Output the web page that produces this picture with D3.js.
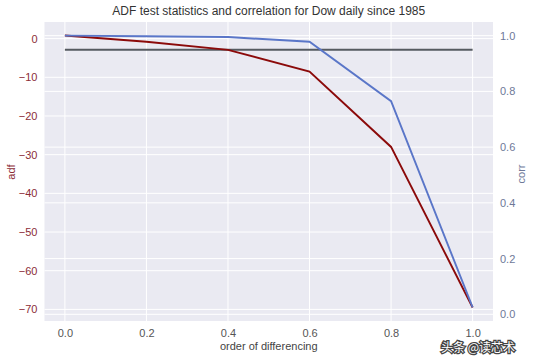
<!DOCTYPE html>
<html><head><meta charset="utf-8">
<script src="https://cdn.jsdelivr.net/npm/d3@7"></script>
<style>body{margin:0;background:#fff;}text{font-family:"Liberation Sans",Arial,sans-serif;}</style>
</head><body><svg id="c" width="534" height="360"></svg>
<script>
const orders = [0.0, 0.2, 0.4, 0.6, 0.8, 1.0];
const adf = [0.8, -0.8, -2.9, -8.5, -28.0, -69.5];
const corr = [1.0, 0.998, 0.995, 0.978, 0.765, 0.025];
const critical = -2.86;
const xTicks = [0.0, 0.2, 0.4, 0.6, 0.8, 1.0];
const adfTicks = [0, -10, -20, -30, -40, -50, -60, -70];
const corrTicks = [0.0, 0.2, 0.4, 0.6, 0.8, 1.0];

const svg = d3.select("#c");
const L = 44.5, R = 493, T = 22, B = 321;
const x = d3.scaleLinear().domain([-0.05, 1.05]).range([L, R]);
const yL = d3.scaleLinear().domain([-73, 4.3]).range([B, T]);
const yR = d3.scaleLinear().domain([-0.024, 1.049]).range([B, T]);

svg.append("rect").attr("x", L).attr("y", T).attr("width", R - L).attr("height", B - T).attr("fill", "#EAEAF2");
const g = svg.append("g");
xTicks.forEach(t => g.append("line").attr("x1", x(t)).attr("x2", x(t)).attr("y1", T).attr("y2", B).attr("stroke", "#fff").attr("stroke-width", 1));
adfTicks.forEach(t => g.append("line").attr("x1", L).attr("x2", R).attr("y1", yL(t)).attr("y2", yL(t)).attr("stroke", "#fff").attr("stroke-width", 1));
corrTicks.forEach(t => g.append("line").attr("x1", L).attr("x2", R).attr("y1", yR(t)).attr("y2", yR(t)).attr("stroke", "#fff").attr("stroke-width", 1));

// critical line
svg.append("line").attr("x1", x(orders[0])).attr("x2", x(orders[orders.length-1]))
  .attr("y1", yL(critical)).attr("y2", yL(critical)).attr("stroke", "#555a60").attr("stroke-width", 2);

svg.append("path").datum(orders.map((o, i) => [o, adf[i]]))
  .attr("d", d3.line().x(d => x(d[0])).y(d => yL(d[1])))
  .attr("fill", "none").attr("stroke", "#8b0a0a").attr("stroke-width", 1.9);
svg.append("path").datum(orders.map((o, i) => [o, corr[i]]))
  .attr("d", d3.line().x(d => x(d[0])).y(d => yR(d[1])))
  .attr("fill", "none").attr("stroke", "#5a76c8").attr("stroke-width", 1.9);

// axes
const ax = svg.append("g").attr("transform", `translate(0,${B})`).call(d3.axisBottom(x).tickValues(xTicks).tickFormat(d3.format(".1f")).tickSize(0).tickPadding(8));
ax.select(".domain").remove();
ax.selectAll("text").attr("fill", "#555").attr("font-size", 11).style("font-family", "Liberation Sans, Arial, sans-serif");

const al = svg.append("g").attr("transform", `translate(${L},0)`).call(d3.axisLeft(yL).tickValues(adfTicks).tickFormat(d => d < 0 ? "\u2212" + Math.abs(d) : d).tickSize(0).tickPadding(7));
al.select(".domain").remove();
al.selectAll("text").attr("fill", "#8c2d37").attr("font-size", 11).style("font-family", "Liberation Sans, Arial, sans-serif");

const ar = svg.append("g").attr("transform", `translate(${R},0)`).call(d3.axisRight(yR).tickValues(corrTicks).tickFormat(d3.format(".1f")).tickSize(0).tickPadding(7));
ar.select(".domain").remove();
ar.selectAll("text").attr("fill", "#6e7898").attr("font-size", 11).style("font-family", "Liberation Sans, Arial, sans-serif");

svg.append("text").attr("x", (L + R) / 2).attr("y", 15).attr("text-anchor", "middle").attr("font-size", 12).attr("fill", "#333").text("ADF test statistics and correlation for Dow daily since 1985");
svg.append("text").attr("x", (L + R) / 2).attr("y", 350).attr("text-anchor", "middle").attr("font-size", 11).attr("fill", "#444").text("order of differencing");
svg.append("text").attr("transform", "translate(15,172) rotate(-90)").attr("text-anchor", "middle").attr("font-size", 11).attr("fill", "#8c2d37").text("adf");
svg.append("text").attr("transform", "translate(525,174) rotate(-90)").attr("text-anchor", "middle").attr("font-size", 11).attr("fill", "#6e7898").text("corr");

svg.append("text").attr("x", 441).attr("y", 352).attr("font-size", 12).attr("fill", "#fff").attr("stroke", "#444").attr("stroke-width", 2.5).attr("paint-order", "stroke")
  .style("font-family", "Noto Sans CJK SC, sans-serif").text("头条 @读芯术");
</script></body></html>
